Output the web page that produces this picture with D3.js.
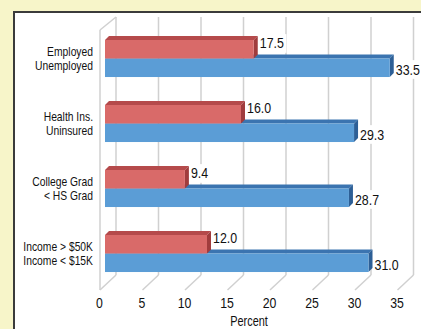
<!DOCTYPE html>
<html><head><meta charset="utf-8">
<script src="https://cdn.jsdelivr.net/npm/d3@7"></script>
<style>
html,body{margin:0;padding:0;background:#f7f5c9;}
svg{display:block;}
text{font-family:"Liberation Sans",Arial,sans-serif;}
</style></head>
<body>
<svg id="c" width="421" height="329"></svg>
<script>
// ---- data ----
const labelTop = ["Employed", "Health Ins.", "College Grad", "Income > $50K"];
const labelBottom = ["Unemployed", "Uninsured", "< HS Grad", "Income < $15K"];
const seriesNames = ["top", "bottom"];
const redValues = [17.5, 16.0, 9.4, 12.0];
const blueValues = [33.5, 29.3, 28.7, 31.0];
const tickValues = [0, 5, 10, 15, 20, 25, 30, 35];
const axisTitle = "Percent";

const svg = d3.select("#c");
const W = 421, H = 329;

svg.append("rect").attr("width", W).attr("height", H).attr("fill", "#f7f5c9");
svg.append("rect").attr("x", 14).attr("y", 12).attr("width", 600).attr("height", 500)
  .attr("fill", "#fff").attr("stroke", "#3b3b3b").attr("stroke-width", 2);

const x = d3.scaleLinear().domain([0, 35]).range([105, 402.5]);
const idx = d3.range(labelTop.length);
const y = d3.scaleBand().domain(idx).range([26, 286]).paddingInner(0.43).paddingOuter(0.215);
const ySub = d3.scaleBand().domain(seriesNames).range([0, y.bandwidth()]);

const backDx = 11, frontDx = -5, backTop = 17, backBottom = 275, frontBottom = 290, wallTop = 30;
const grid = svg.append("g").attr("stroke", "#d0d0d0").attr("stroke-width", 1.5).attr("fill", "none");
grid.selectAll("line.g").data(tickValues).join("line")
  .attr("x1", d => x(d) + backDx).attr("x2", d => x(d) + backDx)
  .attr("y1", backTop).attr("y2", backBottom);
grid.selectAll("line.f").data(tickValues).join("line")
  .attr("x1", d => x(d) + frontDx).attr("y1", frontBottom)
  .attr("x2", d => x(d) + backDx).attr("y2", backBottom);
grid.append("line").attr("x1", x(0) + frontDx).attr("x2", x(0) + frontDx).attr("y1", wallTop).attr("y2", frontBottom);
grid.append("line").attr("x1", x(0) + frontDx).attr("y1", wallTop).attr("x2", x(0) + backDx).attr("y2", backTop);

const d = 4;
function bar3d(g, v, top, h, cFront, cTop, cSide) {
  const x0 = x(0), x1 = x(v), y0 = top, y1 = top + h;
  g.append("path").attr("d", `M${x0},${y0}L${x1},${y0}L${x1 + d},${y0 - d}L${x0 + d},${y0 - d}Z`).attr("fill", cTop);
  g.append("path").attr("d", `M${x1},${y0}L${x1 + d},${y0 - d}L${x1 + d},${y1 - d}L${x1},${y1}Z`).attr("fill", cSide);
  g.append("rect").attr("x", x0).attr("y", y0).attr("width", x1 - x0).attr("height", h).attr("fill", cFront);
}

const bars = svg.append("g");
idx.forEach(i => {
  const g = bars.append("g");
  bar3d(g, blueValues[i], y(i) + ySub("bottom"), ySub.bandwidth(), "#5b9dd6", "#3b74b0", "#2d5f96");
  bar3d(g, redValues[i], y(i) + ySub("top"), ySub.bandwidth(), "#d96a69", "#b54a4b", "#a03c3d");
});

function addText(parent, tx, ty, str, size, anchor, sx) {
  const g = parent.append("g").attr("transform", `translate(${tx},${ty}) scale(${sx},1)`);
  const t = g.append("text").attr("font-size", size).attr("fill", "#111").attr("text-anchor", anchor).text(str);
  return {g, t};
}

// value labels
function valueLabel(v, xx, base) {
  const {g, t} = addText(svg, xx, base, v.toFixed(1), 15.5, "start", 0.8);
  const bb = t.node().getBBox();
  g.insert("rect", () => t.node()).attr("x", bb.x - 1).attr("y", bb.y).attr("width", bb.width + 4).attr("height", bb.height + 1).attr("fill", "#fff");
}
idx.forEach(i => {
  valueLabel(redValues[i], x(redValues[i]) + d + 2, y(i) + ySub("top") + 8.5);
  valueLabel(blueValues[i], x(blueValues[i]) + d + 2, y(i) + ySub("bottom") + 16);
});

// category labels
const cat = svg.append("g");
idx.forEach(i => {
  const c = y(i) + y.bandwidth() / 2;
  addText(cat, 93, c - 2.5, labelTop[i], 12, "end", 0.86);
  addText(cat, 93, c + 11.5, labelBottom[i], 12, "end", 0.86);
});

// x axis tick labels
const ax = svg.append("g");
tickValues.forEach(v => addText(ax, x(v) - 5.5, 308, String(v), 15, "middle", 0.82));
addText(svg, 249, 326, axisTitle, 14, "middle", 0.78);
</script>
</body></html>
